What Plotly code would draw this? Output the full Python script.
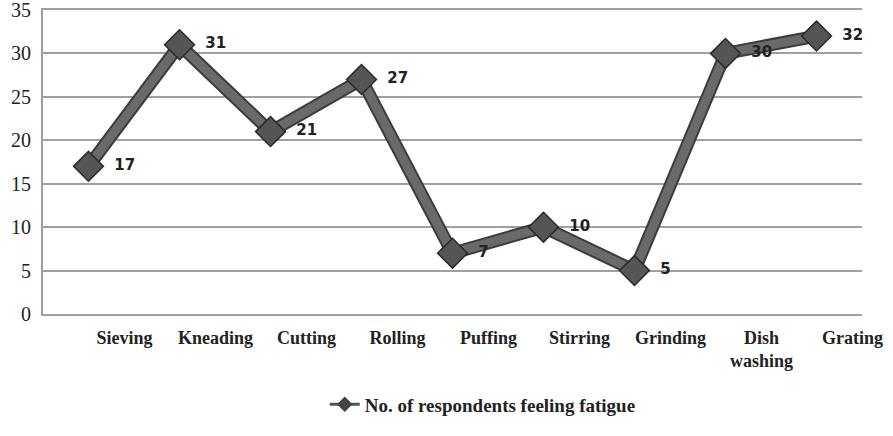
import plotly.graph_objects as go

categories = ["Sieving", "Kneading", "Cutting", "Rolling", "Puffing",
              "Stirring", "Grinding", "Dish<br>washing", "Grating"]
fatigue = [17, 31, 21, 27, 7, 10, 5, 30, 32]
series_name = "No. of respondents feeling fatigue"
y_ticks = [0, 5, 10, 15, 20, 25, 30, 35]

SERIF = "Liberation Serif, Times New Roman, serif"
GRID = "#a0a0a0"

fig = go.Figure()

# dark outline under the line
fig.add_trace(go.Scatter(
    x=categories, y=fatigue, mode="lines",
    line=dict(color="#3c3c3c", width=13),
    showlegend=False, hoverinfo="skip", cliponaxis=False,
))
fig.add_trace(go.Scatter(
    x=categories, y=fatigue, mode="lines+markers+text",
    name=series_name, showlegend=False,
    line=dict(color="#6a6a6a", width=9),
    marker=dict(symbol="diamond", size=23, color="#555555",
                line=dict(color="#2a2a2a", width=1.5)),
    text=[str(v) for v in fatigue],
    texttemplate="  %{text}",
    textposition="middle right",
    textfont=dict(family="DejaVu Sans", size=15, color="#222222", weight="bold"),
    cliponaxis=False,
))
# legend entry (thin line with small diamond, as in the reference)
fig.add_trace(go.Scatter(
    x=[None], y=[None], mode="lines+markers", name=series_name,
    line=dict(color="#555555", width=3),
    marker=dict(symbol="diamond", size=12, color="#444444"),
))

fig.update_layout(
    width=893, height=436,
    margin=dict(l=43, r=31, t=10, b=122, autoexpand=False),
    paper_bgcolor="white", plot_bgcolor="white",
    showlegend=True,
    legend=dict(orientation="h", x=0.344, xanchor="left", y=-0.235, yanchor="top",
                font=dict(family=SERIF, size=19, color="#222222", weight="bold")),
    xaxis=dict(
        type="category", range=[-0.5, 8.5], automargin=False,
        showgrid=False, zeroline=False,
        showline=True, mirror=True, linecolor=GRID, linewidth=2,
        ticks="", ticklabelshift=36, ticklabelstandoff=6,
        tickfont=dict(family=SERIF, size=18, color="#222222", weight="bold"),
    ),
    yaxis=dict(
        range=[0, 35], tickvals=y_ticks, automargin=False,
        showgrid=True, gridcolor=GRID, gridwidth=2,
        zeroline=False,
        showline=True, linecolor=GRID, linewidth=2,
        ticks="", ticklabelstandoff=6, ticklabeloverflow="allow",
        tickfont=dict(family=SERIF, size=20, color="#222222"),
    ),
)

fig.write_html("out.html", config={"displayModeBar": False},
               post_script="document.body.style.margin='0';")
